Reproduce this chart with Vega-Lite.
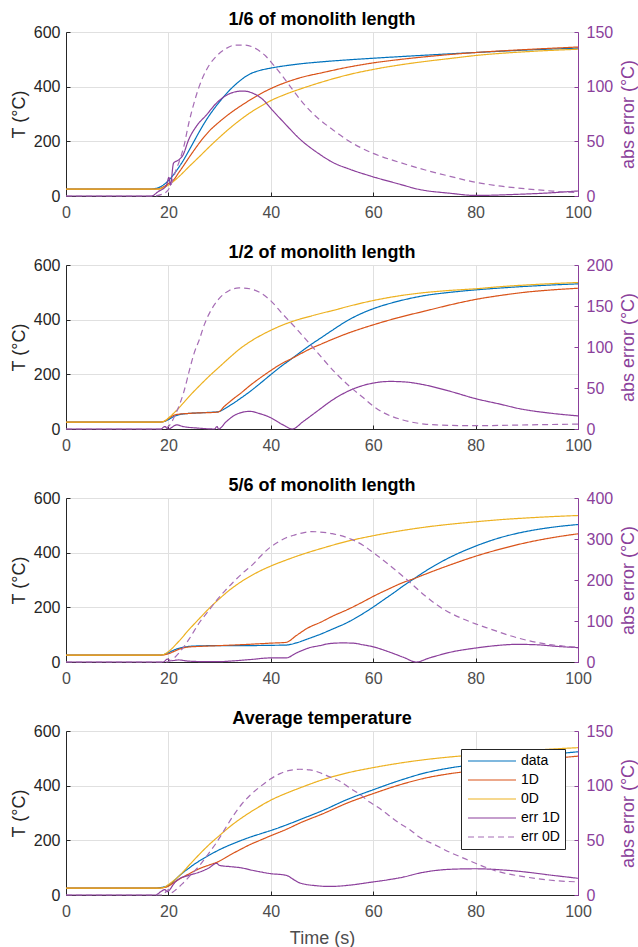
{
"$schema": "https://vega.github.io/schema/vega-lite/v6.json",
"padding": {"left": 10, "top": 11, "right": 0, "bottom": 0},
"config": {
  "font": "Liberation Sans",
  "view": {"stroke": null},
  "title": {"fontSize": 18, "fontWeight": "bold", "color": "#000000", "offset": -5},
  "axis": {"labelFontSize": 16, "titleFontSize": 18, "titleFontWeight": "normal", "labelFlush": false, "labelOverlap": false, "tickSize": -4, "gridColor": "#e0e0e0", "gridWidth": 1}
},
"data": {"values": [
{"p":1,"s":"data","t":0,"v":25},{"p":1,"s":"data","t":16,"v":25},{"p":1,"s":"data","t":17,"v":26},{"p":1,"s":"data","t":18,"v":30},{"p":1,"s":"data","t":19,"v":40},{"p":1,"s":"data","t":20,"v":56},{"p":1,"s":"data","t":21,"v":78},{"p":1,"s":"data","t":22,"v":104},{"p":1,"s":"data","t":23,"v":133},{"p":1,"s":"data","t":24,"v":166},{"p":1,"s":"data","t":25,"v":200},{"p":1,"s":"data","t":26,"v":234},{"p":1,"s":"data","t":27,"v":266},{"p":1,"s":"data","t":28,"v":295},{"p":1,"s":"data","t":29,"v":321},{"p":1,"s":"data","t":30,"v":345},{"p":1,"s":"data","t":31,"v":367},{"p":1,"s":"data","t":32,"v":388},{"p":1,"s":"data","t":33,"v":406},{"p":1,"s":"data","t":34,"v":422},{"p":1,"s":"data","t":35,"v":436},{"p":1,"s":"data","t":36,"v":447},{"p":1,"s":"data","t":38,"v":460},{"p":1,"s":"data","t":40,"v":468},{"p":1,"s":"data","t":43,"v":477},{"p":1,"s":"data","t":46,"v":484},{"p":1,"s":"data","t":50,"v":491},{"p":1,"s":"data","t":55,"v":498},{"p":1,"s":"data","t":60,"v":504},{"p":1,"s":"data","t":70,"v":515},{"p":1,"s":"data","t":80,"v":525},{"p":1,"s":"data","t":90,"v":534},{"p":1,"s":"data","t":100,"v":541},
{"p":1,"s":"1D","t":0,"v":25},{"p":1,"s":"1D","t":17,"v":25},{"p":1,"s":"1D","t":18,"v":26},{"p":1,"s":"1D","t":19,"v":33},{"p":1,"s":"1D","t":20,"v":45},{"p":1,"s":"1D","t":20.9,"v":56},{"p":1,"s":"1D","t":22,"v":85},{"p":1,"s":"1D","t":23,"v":112},{"p":1,"s":"1D","t":24,"v":140},{"p":1,"s":"1D","t":25,"v":167},{"p":1,"s":"1D","t":26,"v":193},{"p":1,"s":"1D","t":28,"v":238},{"p":1,"s":"1D","t":30,"v":272},{"p":1,"s":"1D","t":32,"v":302},{"p":1,"s":"1D","t":34,"v":328},{"p":1,"s":"1D","t":36,"v":352},{"p":1,"s":"1D","t":38,"v":374},{"p":1,"s":"1D","t":40,"v":393},{"p":1,"s":"1D","t":43,"v":416},{"p":1,"s":"1D","t":46,"v":434},{"p":1,"s":"1D","t":50,"v":451},{"p":1,"s":"1D","t":55,"v":471},{"p":1,"s":"1D","t":60,"v":487},{"p":1,"s":"1D","t":65,"v":499},{"p":1,"s":"1D","t":70,"v":509},{"p":1,"s":"1D","t":80,"v":525},{"p":1,"s":"1D","t":90,"v":536},{"p":1,"s":"1D","t":100,"v":545},
{"p":1,"s":"0D","t":0,"v":25},{"p":1,"s":"0D","t":18,"v":25},{"p":1,"s":"0D","t":19,"v":30},{"p":1,"s":"0D","t":20,"v":40},{"p":1,"s":"0D","t":20.9,"v":52},{"p":1,"s":"0D","t":22,"v":70},{"p":1,"s":"0D","t":23,"v":88},{"p":1,"s":"0D","t":24,"v":107},{"p":1,"s":"0D","t":25,"v":125},{"p":1,"s":"0D","t":26,"v":143},{"p":1,"s":"0D","t":28,"v":180},{"p":1,"s":"0D","t":30,"v":215},{"p":1,"s":"0D","t":32,"v":248},{"p":1,"s":"0D","t":34,"v":278},{"p":1,"s":"0D","t":36,"v":305},{"p":1,"s":"0D","t":38,"v":328},{"p":1,"s":"0D","t":40,"v":349},{"p":1,"s":"0D","t":43,"v":373},{"p":1,"s":"0D","t":46,"v":393},{"p":1,"s":"0D","t":50,"v":417},{"p":1,"s":"0D","t":55,"v":443},{"p":1,"s":"0D","t":60,"v":463},{"p":1,"s":"0D","t":65,"v":479},{"p":1,"s":"0D","t":70,"v":492},{"p":1,"s":"0D","t":75,"v":503},{"p":1,"s":"0D","t":80,"v":514},{"p":1,"s":"0D","t":90,"v":528},{"p":1,"s":"0D","t":100,"v":537},
{"p":1,"s":"err 1D","t":0,"v":0},{"p":1,"s":"err 1D","t":16.7,"v":0},{"p":1,"s":"err 1D","t":18,"v":4},{"p":1,"s":"err 1D","t":19.6,"v":9.5},{"p":1,"s":"err 1D","t":20.1,"v":17},{"p":1,"s":"err 1D","t":20.4,"v":10},{"p":1,"s":"err 1D","t":21,"v":30},{"p":1,"s":"err 1D","t":22,"v":33},{"p":1,"s":"err 1D","t":22.8,"v":37},{"p":1,"s":"err 1D","t":24,"v":52},{"p":1,"s":"err 1D","t":25.5,"v":64},{"p":1,"s":"err 1D","t":27.4,"v":74},{"p":1,"s":"err 1D","t":29.4,"v":85},{"p":1,"s":"err 1D","t":31.3,"v":92},{"p":1,"s":"err 1D","t":33.3,"v":95.5},{"p":1,"s":"err 1D","t":34.6,"v":96},{"p":1,"s":"err 1D","t":36.5,"v":94},{"p":1,"s":"err 1D","t":38.5,"v":88},{"p":1,"s":"err 1D","t":40.4,"v":78},{"p":1,"s":"err 1D","t":42.4,"v":68},{"p":1,"s":"err 1D","t":45.7,"v":52},{"p":1,"s":"err 1D","t":49.6,"v":38},{"p":1,"s":"err 1D","t":52,"v":31},{"p":1,"s":"err 1D","t":55.4,"v":24.5},{"p":1,"s":"err 1D","t":59.3,"v":18.5},{"p":1,"s":"err 1D","t":65,"v":11},{"p":1,"s":"err 1D","t":69,"v":6},{"p":1,"s":"err 1D","t":75,"v":2.5},{"p":1,"s":"err 1D","t":80,"v":0.5},{"p":1,"s":"err 1D","t":88,"v":1.5},{"p":1,"s":"err 1D","t":95,"v":3},{"p":1,"s":"err 1D","t":100,"v":4.6},
{"p":1,"s":"err 0D","t":0,"v":0},{"p":1,"s":"err 0D","t":17,"v":0},{"p":1,"s":"err 0D","t":19,"v":2},{"p":1,"s":"err 0D","t":20.3,"v":8},{"p":1,"s":"err 0D","t":21.5,"v":24},{"p":1,"s":"err 0D","t":22.3,"v":34},{"p":1,"s":"err 0D","t":23,"v":45},{"p":1,"s":"err 0D","t":24,"v":67},{"p":1,"s":"err 0D","t":25,"v":85},{"p":1,"s":"err 0D","t":26,"v":100},{"p":1,"s":"err 0D","t":27.5,"v":116},{"p":1,"s":"err 0D","t":29.4,"v":128},{"p":1,"s":"err 0D","t":31.3,"v":135},{"p":1,"s":"err 0D","t":33,"v":138},{"p":1,"s":"err 0D","t":35,"v":138},{"p":1,"s":"err 0D","t":37,"v":135},{"p":1,"s":"err 0D","t":39,"v":128},{"p":1,"s":"err 0D","t":40.5,"v":120},{"p":1,"s":"err 0D","t":42.4,"v":109},{"p":1,"s":"err 0D","t":44.3,"v":97},{"p":1,"s":"err 0D","t":46.3,"v":85},{"p":1,"s":"err 0D","t":49,"v":72},{"p":1,"s":"err 0D","t":52,"v":61},{"p":1,"s":"err 0D","t":55,"v":51},{"p":1,"s":"err 0D","t":60,"v":39},{"p":1,"s":"err 0D","t":65,"v":31},{"p":1,"s":"err 0D","t":70,"v":24},{"p":1,"s":"err 0D","t":75,"v":18},{"p":1,"s":"err 0D","t":80,"v":12.5},{"p":1,"s":"err 0D","t":85,"v":9},{"p":1,"s":"err 0D","t":90,"v":6.5},{"p":1,"s":"err 0D","t":95,"v":4.5},{"p":1,"s":"err 0D","t":100,"v":3},

{"p":2,"s":"data","t":0,"v":25},{"p":2,"s":"data","t":18,"v":25},{"p":2,"s":"data","t":19,"v":27},{"p":2,"s":"data","t":20,"v":34},{"p":2,"s":"data","t":21,"v":45},{"p":2,"s":"data","t":22,"v":52},{"p":2,"s":"data","t":24,"v":57},{"p":2,"s":"data","t":26,"v":59},{"p":2,"s":"data","t":28,"v":61},{"p":2,"s":"data","t":29.7,"v":63},{"p":2,"s":"data","t":31,"v":74},{"p":2,"s":"data","t":32,"v":86},{"p":2,"s":"data","t":33,"v":98},{"p":2,"s":"data","t":34,"v":111},{"p":2,"s":"data","t":36,"v":138},{"p":2,"s":"data","t":38,"v":168},{"p":2,"s":"data","t":40,"v":199},{"p":2,"s":"data","t":42,"v":229},{"p":2,"s":"data","t":44,"v":256},{"p":2,"s":"data","t":46,"v":284},{"p":2,"s":"data","t":48,"v":311},{"p":2,"s":"data","t":50,"v":336},{"p":2,"s":"data","t":52,"v":361},{"p":2,"s":"data","t":55,"v":397},{"p":2,"s":"data","t":58,"v":425},{"p":2,"s":"data","t":60,"v":440},{"p":2,"s":"data","t":65,"v":468},{"p":2,"s":"data","t":70,"v":488},{"p":2,"s":"data","t":75,"v":500},{"p":2,"s":"data","t":80,"v":509},{"p":2,"s":"data","t":85,"v":516},{"p":2,"s":"data","t":90,"v":522},{"p":2,"s":"data","t":95,"v":527},{"p":2,"s":"data","t":100,"v":531},
{"p":2,"s":"1D","t":0,"v":25},{"p":2,"s":"1D","t":18,"v":25},{"p":2,"s":"1D","t":19,"v":27},{"p":2,"s":"1D","t":20,"v":38},{"p":2,"s":"1D","t":21,"v":50},{"p":2,"s":"1D","t":22,"v":54},{"p":2,"s":"1D","t":24,"v":57},{"p":2,"s":"1D","t":26,"v":59},{"p":2,"s":"1D","t":28,"v":60},{"p":2,"s":"1D","t":29.7,"v":62},{"p":2,"s":"1D","t":31,"v":84},{"p":2,"s":"1D","t":32,"v":100},{"p":2,"s":"1D","t":33,"v":115},{"p":2,"s":"1D","t":34,"v":129},{"p":2,"s":"1D","t":36,"v":160},{"p":2,"s":"1D","t":38,"v":188},{"p":2,"s":"1D","t":40,"v":214},{"p":2,"s":"1D","t":42,"v":238},{"p":2,"s":"1D","t":44,"v":257},{"p":2,"s":"1D","t":46,"v":277},{"p":2,"s":"1D","t":48,"v":296},{"p":2,"s":"1D","t":50,"v":312},{"p":2,"s":"1D","t":52,"v":328},{"p":2,"s":"1D","t":55,"v":350},{"p":2,"s":"1D","t":60,"v":381},{"p":2,"s":"1D","t":65,"v":408},{"p":2,"s":"1D","t":70,"v":431},{"p":2,"s":"1D","t":75,"v":454},{"p":2,"s":"1D","t":80,"v":474},{"p":2,"s":"1D","t":85,"v":489},{"p":2,"s":"1D","t":90,"v":501},{"p":2,"s":"1D","t":95,"v":509},{"p":2,"s":"1D","t":100,"v":515},
{"p":2,"s":"0D","t":0,"v":25},{"p":2,"s":"0D","t":18,"v":25},{"p":2,"s":"0D","t":19,"v":27},{"p":2,"s":"0D","t":20,"v":40},{"p":2,"s":"0D","t":21,"v":57},{"p":2,"s":"0D","t":22,"v":76},{"p":2,"s":"0D","t":23,"v":97},{"p":2,"s":"0D","t":24,"v":118},{"p":2,"s":"0D","t":25,"v":138},{"p":2,"s":"0D","t":26,"v":157},{"p":2,"s":"0D","t":28,"v":194},{"p":2,"s":"0D","t":30,"v":228},{"p":2,"s":"0D","t":32,"v":262},{"p":2,"s":"0D","t":34,"v":294},{"p":2,"s":"0D","t":36,"v":320},{"p":2,"s":"0D","t":38,"v":342},{"p":2,"s":"0D","t":40,"v":361},{"p":2,"s":"0D","t":42,"v":378},{"p":2,"s":"0D","t":44,"v":392},{"p":2,"s":"0D","t":46,"v":404},{"p":2,"s":"0D","t":48,"v":414},{"p":2,"s":"0D","t":50,"v":424},{"p":2,"s":"0D","t":52,"v":433},{"p":2,"s":"0D","t":55,"v":448},{"p":2,"s":"0D","t":60,"v":470},{"p":2,"s":"0D","t":65,"v":487},{"p":2,"s":"0D","t":70,"v":499},{"p":2,"s":"0D","t":75,"v":507},{"p":2,"s":"0D","t":80,"v":513},{"p":2,"s":"0D","t":85,"v":521},{"p":2,"s":"0D","t":90,"v":527},{"p":2,"s":"0D","t":95,"v":532},{"p":2,"s":"0D","t":100,"v":536},
{"p":2,"s":"err 1D","t":0,"v":0},{"p":2,"s":"err 1D","t":18.5,"v":0},{"p":2,"s":"err 1D","t":19.3,"v":3},{"p":2,"s":"err 1D","t":20,"v":0},{"p":2,"s":"err 1D","t":21.6,"v":5},{"p":2,"s":"err 1D","t":22.9,"v":3},{"p":2,"s":"err 1D","t":26,"v":1},{"p":2,"s":"err 1D","t":29,"v":0},{"p":2,"s":"err 1D","t":29.5,"v":3},{"p":2,"s":"err 1D","t":29.8,"v":0},{"p":2,"s":"err 1D","t":31.3,"v":9},{"p":2,"s":"err 1D","t":33.3,"v":18},{"p":2,"s":"err 1D","t":35.9,"v":21.5},{"p":2,"s":"err 1D","t":37.7,"v":19},{"p":2,"s":"err 1D","t":39.9,"v":14},{"p":2,"s":"err 1D","t":42.4,"v":5},{"p":2,"s":"err 1D","t":44.2,"v":0},{"p":2,"s":"err 1D","t":46.3,"v":9},{"p":2,"s":"err 1D","t":48.9,"v":21},{"p":2,"s":"err 1D","t":52.2,"v":36},{"p":2,"s":"err 1D","t":55.4,"v":47},{"p":2,"s":"err 1D","t":58,"v":53},{"p":2,"s":"err 1D","t":60,"v":56},{"p":2,"s":"err 1D","t":63.3,"v":58},{"p":2,"s":"err 1D","t":66,"v":57.5},{"p":2,"s":"err 1D","t":69,"v":55},{"p":2,"s":"err 1D","t":75,"v":46},{"p":2,"s":"err 1D","t":80,"v":37},{"p":2,"s":"err 1D","t":85,"v":30},{"p":2,"s":"err 1D","t":88.4,"v":25},{"p":2,"s":"err 1D","t":95,"v":19},{"p":2,"s":"err 1D","t":100,"v":16},
{"p":2,"s":"err 0D","t":0,"v":0},{"p":2,"s":"err 0D","t":19,"v":0},{"p":2,"s":"err 0D","t":20,"v":3},{"p":2,"s":"err 0D","t":21.6,"v":21},{"p":2,"s":"err 0D","t":23,"v":45},{"p":2,"s":"err 0D","t":24.2,"v":74},{"p":2,"s":"err 0D","t":25,"v":92},{"p":2,"s":"err 0D","t":26.1,"v":110},{"p":2,"s":"err 0D","t":27,"v":127},{"p":2,"s":"err 0D","t":28,"v":141},{"p":2,"s":"err 0D","t":29.9,"v":159},{"p":2,"s":"err 0D","t":31.9,"v":169},{"p":2,"s":"err 0D","t":33.8,"v":172},{"p":2,"s":"err 0D","t":35.9,"v":171},{"p":2,"s":"err 0D","t":37.7,"v":167},{"p":2,"s":"err 0D","t":39.9,"v":157},{"p":2,"s":"err 0D","t":42.2,"v":141},{"p":2,"s":"err 0D","t":44.9,"v":123},{"p":2,"s":"err 0D","t":47.6,"v":104},{"p":2,"s":"err 0D","t":50.1,"v":86},{"p":2,"s":"err 0D","t":52.7,"v":68},{"p":2,"s":"err 0D","t":55.4,"v":52},{"p":2,"s":"err 0D","t":57.9,"v":39},{"p":2,"s":"err 0D","t":60,"v":28},{"p":2,"s":"err 0D","t":62,"v":20},{"p":2,"s":"err 0D","t":65.8,"v":11},{"p":2,"s":"err 0D","t":70,"v":6},{"p":2,"s":"err 0D","t":72.3,"v":5},{"p":2,"s":"err 0D","t":80,"v":4},{"p":2,"s":"err 0D","t":90,"v":5},{"p":2,"s":"err 0D","t":100,"v":6},

{"p":3,"s":"data","t":0,"v":25},{"p":3,"s":"data","t":18,"v":25},{"p":3,"s":"data","t":19,"v":27},{"p":3,"s":"data","t":20,"v":34},{"p":3,"s":"data","t":21,"v":43},{"p":3,"s":"data","t":22,"v":50},{"p":3,"s":"data","t":23,"v":54},{"p":3,"s":"data","t":24,"v":57},{"p":3,"s":"data","t":26,"v":59},{"p":3,"s":"data","t":30,"v":60},{"p":3,"s":"data","t":35,"v":60},{"p":3,"s":"data","t":40,"v":61},{"p":3,"s":"data","t":43,"v":62},{"p":3,"s":"data","t":45,"v":70},{"p":3,"s":"data","t":47,"v":83},{"p":3,"s":"data","t":50,"v":104},{"p":3,"s":"data","t":52,"v":120},{"p":3,"s":"data","t":55,"v":145},{"p":3,"s":"data","t":58,"v":177},{"p":3,"s":"data","t":60,"v":201},{"p":3,"s":"data","t":62,"v":227},{"p":3,"s":"data","t":64,"v":253},{"p":3,"s":"data","t":66,"v":280},{"p":3,"s":"data","t":68,"v":305},{"p":3,"s":"data","t":70,"v":330},{"p":3,"s":"data","t":72,"v":353},{"p":3,"s":"data","t":75,"v":383},{"p":3,"s":"data","t":80,"v":424},{"p":3,"s":"data","t":85,"v":456},{"p":3,"s":"data","t":90,"v":478},{"p":3,"s":"data","t":95,"v":493},{"p":3,"s":"data","t":100,"v":503},
{"p":3,"s":"1D","t":0,"v":25},{"p":3,"s":"1D","t":18,"v":25},{"p":3,"s":"1D","t":19,"v":26},{"p":3,"s":"1D","t":20,"v":30},{"p":3,"s":"1D","t":21,"v":38},{"p":3,"s":"1D","t":22,"v":46},{"p":3,"s":"1D","t":23,"v":52},{"p":3,"s":"1D","t":24,"v":55},{"p":3,"s":"1D","t":26,"v":57},{"p":3,"s":"1D","t":30,"v":60},{"p":3,"s":"1D","t":35,"v":64},{"p":3,"s":"1D","t":40,"v":69},{"p":3,"s":"1D","t":43,"v":72},{"p":3,"s":"1D","t":45,"v":97},{"p":3,"s":"1D","t":47,"v":122},{"p":3,"s":"1D","t":50,"v":148},{"p":3,"s":"1D","t":52,"v":167},{"p":3,"s":"1D","t":55,"v":192},{"p":3,"s":"1D","t":58,"v":220},{"p":3,"s":"1D","t":60,"v":240},{"p":3,"s":"1D","t":63,"v":267},{"p":3,"s":"1D","t":66,"v":292},{"p":3,"s":"1D","t":68.4,"v":308},{"p":3,"s":"1D","t":70,"v":320},{"p":3,"s":"1D","t":75,"v":355},{"p":3,"s":"1D","t":80,"v":387},{"p":3,"s":"1D","t":85,"v":414},{"p":3,"s":"1D","t":90,"v":437},{"p":3,"s":"1D","t":95,"v":455},{"p":3,"s":"1D","t":100,"v":469},
{"p":3,"s":"0D","t":0,"v":25},{"p":3,"s":"0D","t":18,"v":25},{"p":3,"s":"0D","t":19,"v":27},{"p":3,"s":"0D","t":20,"v":38},{"p":3,"s":"0D","t":22,"v":75},{"p":3,"s":"0D","t":24,"v":118},{"p":3,"s":"0D","t":26,"v":158},{"p":3,"s":"0D","t":28,"v":197},{"p":3,"s":"0D","t":30,"v":232},{"p":3,"s":"0D","t":32,"v":264},{"p":3,"s":"0D","t":34,"v":291},{"p":3,"s":"0D","t":36,"v":314},{"p":3,"s":"0D","t":38,"v":334},{"p":3,"s":"0D","t":40,"v":351},{"p":3,"s":"0D","t":43,"v":373},{"p":3,"s":"0D","t":46,"v":393},{"p":3,"s":"0D","t":50,"v":416},{"p":3,"s":"0D","t":55,"v":442},{"p":3,"s":"0D","t":60,"v":462},{"p":3,"s":"0D","t":65,"v":479},{"p":3,"s":"0D","t":70,"v":493},{"p":3,"s":"0D","t":75,"v":504},{"p":3,"s":"0D","t":80,"v":513},{"p":3,"s":"0D","t":85,"v":521},{"p":3,"s":"0D","t":90,"v":527},{"p":3,"s":"0D","t":95,"v":532},{"p":3,"s":"0D","t":100,"v":536},
{"p":3,"s":"err 1D","t":0,"v":0},{"p":3,"s":"err 1D","t":19,"v":0},{"p":3,"s":"err 1D","t":19.8,"v":7},{"p":3,"s":"err 1D","t":20.5,"v":3},{"p":3,"s":"err 1D","t":22,"v":5},{"p":3,"s":"err 1D","t":24,"v":2},{"p":3,"s":"err 1D","t":27,"v":1},{"p":3,"s":"err 1D","t":30,"v":1},{"p":3,"s":"err 1D","t":33,"v":3},{"p":3,"s":"err 1D","t":36,"v":6},{"p":3,"s":"err 1D","t":40,"v":10},{"p":3,"s":"err 1D","t":43,"v":10},{"p":3,"s":"err 1D","t":45,"v":22},{"p":3,"s":"err 1D","t":47.6,"v":35},{"p":3,"s":"err 1D","t":49.6,"v":40},{"p":3,"s":"err 1D","t":51.5,"v":45},{"p":3,"s":"err 1D","t":54,"v":46.5},{"p":3,"s":"err 1D","t":56,"v":46},{"p":3,"s":"err 1D","t":58,"v":42},{"p":3,"s":"err 1D","t":60,"v":37},{"p":3,"s":"err 1D","t":63,"v":25},{"p":3,"s":"err 1D","t":66,"v":11},{"p":3,"s":"err 1D","t":68.4,"v":0},{"p":3,"s":"err 1D","t":71,"v":10},{"p":3,"s":"err 1D","t":75.5,"v":25},{"p":3,"s":"err 1D","t":80,"v":34},{"p":3,"s":"err 1D","t":84,"v":40},{"p":3,"s":"err 1D","t":88,"v":43},{"p":3,"s":"err 1D","t":92,"v":42},{"p":3,"s":"err 1D","t":96,"v":38},{"p":3,"s":"err 1D","t":100,"v":35},
{"p":3,"s":"err 0D","t":0,"v":0},{"p":3,"s":"err 0D","t":19.5,"v":0},{"p":3,"s":"err 0D","t":20.5,"v":4},{"p":3,"s":"err 0D","t":22.2,"v":24},{"p":3,"s":"err 0D","t":24,"v":55},{"p":3,"s":"err 0D","t":26.1,"v":97},{"p":3,"s":"err 0D","t":27.8,"v":124},{"p":3,"s":"err 0D","t":29.4,"v":150},{"p":3,"s":"err 0D","t":31,"v":173},{"p":3,"s":"err 0D","t":32.6,"v":194},{"p":3,"s":"err 0D","t":34.5,"v":217},{"p":3,"s":"err 0D","t":36.5,"v":238},{"p":3,"s":"err 0D","t":38,"v":258},{"p":3,"s":"err 0D","t":39.8,"v":279},{"p":3,"s":"err 0D","t":41.5,"v":293},{"p":3,"s":"err 0D","t":43,"v":303},{"p":3,"s":"err 0D","t":44.7,"v":310},{"p":3,"s":"err 0D","t":46.3,"v":315},{"p":3,"s":"err 0D","t":48,"v":318},{"p":3,"s":"err 0D","t":49.6,"v":317},{"p":3,"s":"err 0D","t":52,"v":313},{"p":3,"s":"err 0D","t":55.8,"v":299},{"p":3,"s":"err 0D","t":58,"v":285},{"p":3,"s":"err 0D","t":60,"v":267},{"p":3,"s":"err 0D","t":63,"v":238},{"p":3,"s":"err 0D","t":67.2,"v":194},{"p":3,"s":"err 0D","t":70,"v":163},{"p":3,"s":"err 0D","t":73.7,"v":129},{"p":3,"s":"err 0D","t":77,"v":108},{"p":3,"s":"err 0D","t":80,"v":93},{"p":3,"s":"err 0D","t":83,"v":80},{"p":3,"s":"err 0D","t":86.5,"v":65},{"p":3,"s":"err 0D","t":90,"v":53},{"p":3,"s":"err 0D","t":93.6,"v":44},{"p":3,"s":"err 0D","t":97,"v":39},{"p":3,"s":"err 0D","t":100,"v":36},

{"p":4,"s":"data","t":0,"v":25},{"p":4,"s":"data","t":17,"v":25},{"p":4,"s":"data","t":18,"v":26},{"p":4,"s":"data","t":19,"v":29},{"p":4,"s":"data","t":20,"v":35},{"p":4,"s":"data","t":21,"v":50},{"p":4,"s":"data","t":22,"v":68},{"p":4,"s":"data","t":23,"v":84},{"p":4,"s":"data","t":24,"v":98},{"p":4,"s":"data","t":25,"v":112},{"p":4,"s":"data","t":26,"v":124},{"p":4,"s":"data","t":28,"v":146},{"p":4,"s":"data","t":30,"v":166},{"p":4,"s":"data","t":32,"v":183},{"p":4,"s":"data","t":34,"v":198},{"p":4,"s":"data","t":36,"v":212},{"p":4,"s":"data","t":38,"v":224},{"p":4,"s":"data","t":40,"v":236},{"p":4,"s":"data","t":43,"v":256},{"p":4,"s":"data","t":46,"v":278},{"p":4,"s":"data","t":50,"v":308},{"p":4,"s":"data","t":55,"v":350},{"p":4,"s":"data","t":60,"v":385},{"p":4,"s":"data","t":65,"v":418},{"p":4,"s":"data","t":70,"v":446},{"p":4,"s":"data","t":75,"v":465},{"p":4,"s":"data","t":80,"v":478},{"p":4,"s":"data","t":85,"v":492},{"p":4,"s":"data","t":90,"v":505},{"p":4,"s":"data","t":95,"v":515},{"p":4,"s":"data","t":100,"v":524},
{"p":4,"s":"1D","t":0,"v":25},{"p":4,"s":"1D","t":18,"v":25},{"p":4,"s":"1D","t":19,"v":27},{"p":4,"s":"1D","t":20,"v":32},{"p":4,"s":"1D","t":21,"v":45},{"p":4,"s":"1D","t":22,"v":57},{"p":4,"s":"1D","t":23,"v":67},{"p":4,"s":"1D","t":24,"v":77},{"p":4,"s":"1D","t":25,"v":87},{"p":4,"s":"1D","t":26,"v":96},{"p":4,"s":"1D","t":28,"v":110},{"p":4,"s":"1D","t":29.5,"v":120},{"p":4,"s":"1D","t":32,"v":146},{"p":4,"s":"1D","t":34,"v":166},{"p":4,"s":"1D","t":36,"v":185},{"p":4,"s":"1D","t":38,"v":201},{"p":4,"s":"1D","t":40,"v":217},{"p":4,"s":"1D","t":43,"v":240},{"p":4,"s":"1D","t":46,"v":266},{"p":4,"s":"1D","t":50,"v":296},{"p":4,"s":"1D","t":55,"v":337},{"p":4,"s":"1D","t":60,"v":371},{"p":4,"s":"1D","t":65,"v":402},{"p":4,"s":"1D","t":70,"v":427},{"p":4,"s":"1D","t":75,"v":444},{"p":4,"s":"1D","t":80,"v":456},{"p":4,"s":"1D","t":85,"v":473},{"p":4,"s":"1D","t":90,"v":488},{"p":4,"s":"1D","t":95,"v":499},{"p":4,"s":"1D","t":100,"v":508},
{"p":4,"s":"0D","t":0,"v":25},{"p":4,"s":"0D","t":18,"v":25},{"p":4,"s":"0D","t":19,"v":27},{"p":4,"s":"0D","t":20,"v":38},{"p":4,"s":"0D","t":21,"v":52},{"p":4,"s":"0D","t":22,"v":68},{"p":4,"s":"0D","t":23,"v":87},{"p":4,"s":"0D","t":24,"v":108},{"p":4,"s":"0D","t":25,"v":128},{"p":4,"s":"0D","t":26,"v":148},{"p":4,"s":"0D","t":28,"v":185},{"p":4,"s":"0D","t":30,"v":218},{"p":4,"s":"0D","t":32,"v":250},{"p":4,"s":"0D","t":34,"v":278},{"p":4,"s":"0D","t":36,"v":303},{"p":4,"s":"0D","t":38,"v":326},{"p":4,"s":"0D","t":40,"v":347},{"p":4,"s":"0D","t":43,"v":372},{"p":4,"s":"0D","t":46,"v":394},{"p":4,"s":"0D","t":50,"v":421},{"p":4,"s":"0D","t":55,"v":447},{"p":4,"s":"0D","t":60,"v":466},{"p":4,"s":"0D","t":65,"v":482},{"p":4,"s":"0D","t":70,"v":495},{"p":4,"s":"0D","t":75,"v":505},{"p":4,"s":"0D","t":80,"v":513},{"p":4,"s":"0D","t":85,"v":521},{"p":4,"s":"0D","t":90,"v":528},{"p":4,"s":"0D","t":95,"v":534},{"p":4,"s":"0D","t":100,"v":539},
{"p":4,"s":"err 1D","t":0,"v":0},{"p":4,"s":"err 1D","t":17.5,"v":0},{"p":4,"s":"err 1D","t":18.5,"v":3},{"p":4,"s":"err 1D","t":19.3,"v":5},{"p":4,"s":"err 1D","t":19.8,"v":3},{"p":4,"s":"err 1D","t":20.3,"v":5},{"p":4,"s":"err 1D","t":21,"v":10},{"p":4,"s":"err 1D","t":22.1,"v":14.7},{"p":4,"s":"err 1D","t":24,"v":18},{"p":4,"s":"err 1D","t":26.1,"v":21},{"p":4,"s":"err 1D","t":28,"v":25},{"p":4,"s":"err 1D","t":29.4,"v":29},{"p":4,"s":"err 1D","t":30,"v":27},{"p":4,"s":"err 1D","t":32,"v":26},{"p":4,"s":"err 1D","t":34,"v":25},{"p":4,"s":"err 1D","t":37,"v":22},{"p":4,"s":"err 1D","t":39.9,"v":19.6},{"p":4,"s":"err 1D","t":43,"v":18},{"p":4,"s":"err 1D","t":44.5,"v":14},{"p":4,"s":"err 1D","t":45.7,"v":11},{"p":4,"s":"err 1D","t":48.9,"v":8.5},{"p":4,"s":"err 1D","t":51.5,"v":7.8},{"p":4,"s":"err 1D","t":55.4,"v":9},{"p":4,"s":"err 1D","t":59.3,"v":11.5},{"p":4,"s":"err 1D","t":63,"v":14},{"p":4,"s":"err 1D","t":66,"v":16.5},{"p":4,"s":"err 1D","t":69,"v":20},{"p":4,"s":"err 1D","t":75,"v":23.5},{"p":4,"s":"err 1D","t":80,"v":24},{"p":4,"s":"err 1D","t":85,"v":23},{"p":4,"s":"err 1D","t":88.4,"v":21.7},{"p":4,"s":"err 1D","t":95,"v":18},{"p":4,"s":"err 1D","t":100,"v":15.3},
{"p":4,"s":"err 0D","t":0,"v":0},{"p":4,"s":"err 0D","t":19,"v":0},{"p":4,"s":"err 0D","t":19.5,"v":3},{"p":4,"s":"err 0D","t":20,"v":5},{"p":4,"s":"err 0D","t":20.5,"v":2},{"p":4,"s":"err 0D","t":21.5,"v":5},{"p":4,"s":"err 0D","t":22.9,"v":11},{"p":4,"s":"err 0D","t":24.5,"v":19},{"p":4,"s":"err 0D","t":26.1,"v":27},{"p":4,"s":"err 0D","t":27.7,"v":37},{"p":4,"s":"err 0D","t":29.4,"v":48},{"p":4,"s":"err 0D","t":31,"v":60},{"p":4,"s":"err 0D","t":32.6,"v":72},{"p":4,"s":"err 0D","t":34.3,"v":83},{"p":4,"s":"err 0D","t":35.9,"v":91},{"p":4,"s":"err 0D","t":37.9,"v":99},{"p":4,"s":"err 0D","t":39.9,"v":106},{"p":4,"s":"err 0D","t":41.8,"v":111},{"p":4,"s":"err 0D","t":43.7,"v":114},{"p":4,"s":"err 0D","t":45.7,"v":115},{"p":4,"s":"err 0D","t":47.6,"v":114.5},{"p":4,"s":"err 0D","t":49.5,"v":112},{"p":4,"s":"err 0D","t":51.5,"v":108},{"p":4,"s":"err 0D","t":53.5,"v":104},{"p":4,"s":"err 0D","t":55.4,"v":98},{"p":4,"s":"err 0D","t":57.4,"v":92},{"p":4,"s":"err 0D","t":59.3,"v":85},{"p":4,"s":"err 0D","t":61,"v":80},{"p":4,"s":"err 0D","t":63,"v":73},{"p":4,"s":"err 0D","t":65,"v":66},{"p":4,"s":"err 0D","t":67.1,"v":60},{"p":4,"s":"err 0D","t":69,"v":53},{"p":4,"s":"err 0D","t":72,"v":46},{"p":4,"s":"err 0D","t":75,"v":39},{"p":4,"s":"err 0D","t":78,"v":33},{"p":4,"s":"err 0D","t":80,"v":29},{"p":4,"s":"err 0D","t":84,"v":22},{"p":4,"s":"err 0D","t":88.4,"v":17.5},{"p":4,"s":"err 0D","t":92,"v":15},{"p":4,"s":"err 0D","t":96,"v":13},{"p":4,"s":"err 0D","t":100,"v":12}
]},
"bounds": "flush",
"spacing": 69,
"resolve": {"scale": {"color": "independent", "strokeDash": "independent"}},
"vconcat": [
{
  "title": "1/6 of monolith length",
  "width": 512, "height": 164,
  "transform": [{"filter": "datum.p == 1"}],
  "layer": [
    {"transform": [{"filter": {"field": "s", "oneOf": ["data", "1D", "0D"]}}],
     "mark": {"type": "line", "interpolate": "monotone", "strokeWidth": 1.2},
     "encoding": {
       "x": {"field": "t", "type": "quantitative", "scale": {"domain": [0, 100], "nice": false}, "axis": {"values": [0, 20, 40, 60, 80, 100], "title": null, "grid": true, "domainColor": "#262626", "tickColor": "#262626", "labelColor": "#4d4d4d", "labelPadding": 12}},
       "y": {"field": "v", "type": "quantitative", "scale": {"domain": [0, 600], "nice": false}, "axis": {"values": [0, 200, 400, 600], "title": "T (°C)", "grid": true, "domainColor": "#262626", "tickColor": "#262626", "labelColor": "#262626", "titleColor": "#262626", "labelPadding": 10, "titlePadding": 5}},
       "color": {"field": "s", "type": "nominal", "scale": {"domain": ["data", "1D", "0D", "err 1D", "err 0D"], "range": ["#0072BD", "#D95319", "#EDB120", "#8B3F9B", "#A66DB5"]}, "legend": null},
       "strokeDash": {"field": "s", "type": "nominal", "scale": {"domain": ["data", "1D", "0D", "err 1D", "err 0D"], "range": [[1, 0], [1, 0], [1, 0], [1, 0], [6, 4]]}, "legend": null}
     }},
    {"transform": [{"filter": {"field": "s", "oneOf": ["err 1D", "err 0D"]}}],
     "mark": {"type": "line", "interpolate": "monotone", "strokeWidth": 1.2},
     "encoding": {
       "x": {"field": "t", "type": "quantitative"},
       "y": {"field": "v", "type": "quantitative", "scale": {"domain": [0, 150], "nice": false}, "axis": {"orient": "right", "values": [0, 50, 100, 150], "title": "abs error (°C)", "grid": false, "domainColor": "#8B3F9B", "tickColor": "#8B3F9B", "labelColor": "#8B3F9B", "titleColor": "#8B3F9B", "labelPadding": 12, "titlePadding": 7, "titleAngle": 270, "titleBaseline": "top"}},
       "color": {"field": "s", "type": "nominal", "legend": null},
       "strokeDash": {"field": "s", "type": "nominal", "legend": null}
     }}
  ],
  "resolve": {"scale": {"y": "independent"}}
},
{
  "title": "1/2 of monolith length",
  "width": 512, "height": 164,
  "transform": [{"filter": "datum.p == 2"}],
  "layer": [
    {"transform": [{"filter": {"field": "s", "oneOf": ["data", "1D", "0D"]}}],
     "mark": {"type": "line", "interpolate": "monotone", "strokeWidth": 1.2},
     "encoding": {
       "x": {"field": "t", "type": "quantitative", "scale": {"domain": [0, 100], "nice": false}, "axis": {"values": [0, 20, 40, 60, 80, 100], "title": null, "grid": true, "domainColor": "#262626", "tickColor": "#262626", "labelColor": "#4d4d4d", "labelPadding": 12}},
       "y": {"field": "v", "type": "quantitative", "scale": {"domain": [0, 600], "nice": false}, "axis": {"values": [0, 200, 400, 600], "title": "T (°C)", "grid": true, "domainColor": "#262626", "tickColor": "#262626", "labelColor": "#262626", "titleColor": "#262626", "labelPadding": 10, "titlePadding": 5}},
       "color": {"field": "s", "type": "nominal", "scale": {"domain": ["data", "1D", "0D", "err 1D", "err 0D"], "range": ["#0072BD", "#D95319", "#EDB120", "#8B3F9B", "#A66DB5"]}, "legend": null},
       "strokeDash": {"field": "s", "type": "nominal", "scale": {"domain": ["data", "1D", "0D", "err 1D", "err 0D"], "range": [[1, 0], [1, 0], [1, 0], [1, 0], [6, 4]]}, "legend": null}
     }},
    {"transform": [{"filter": {"field": "s", "oneOf": ["err 1D", "err 0D"]}}],
     "mark": {"type": "line", "interpolate": "monotone", "strokeWidth": 1.2},
     "encoding": {
       "x": {"field": "t", "type": "quantitative"},
       "y": {"field": "v", "type": "quantitative", "scale": {"domain": [0, 200], "nice": false}, "axis": {"orient": "right", "values": [0, 50, 100, 150, 200], "title": "abs error (°C)", "grid": false, "domainColor": "#8B3F9B", "tickColor": "#8B3F9B", "labelColor": "#8B3F9B", "titleColor": "#8B3F9B", "labelPadding": 12, "titlePadding": 7, "titleAngle": 270, "titleBaseline": "top"}},
       "color": {"field": "s", "type": "nominal", "legend": null},
       "strokeDash": {"field": "s", "type": "nominal", "legend": null}
     }}
  ],
  "resolve": {"scale": {"y": "independent"}}
},
{
  "title": "5/6 of monolith length",
  "width": 512, "height": 164,
  "transform": [{"filter": "datum.p == 3"}],
  "layer": [
    {"transform": [{"filter": {"field": "s", "oneOf": ["data", "1D", "0D"]}}],
     "mark": {"type": "line", "interpolate": "monotone", "strokeWidth": 1.2},
     "encoding": {
       "x": {"field": "t", "type": "quantitative", "scale": {"domain": [0, 100], "nice": false}, "axis": {"values": [0, 20, 40, 60, 80, 100], "title": null, "grid": true, "domainColor": "#262626", "tickColor": "#262626", "labelColor": "#4d4d4d", "labelPadding": 12}},
       "y": {"field": "v", "type": "quantitative", "scale": {"domain": [0, 600], "nice": false}, "axis": {"values": [0, 200, 400, 600], "title": "T (°C)", "grid": true, "domainColor": "#262626", "tickColor": "#262626", "labelColor": "#262626", "titleColor": "#262626", "labelPadding": 10, "titlePadding": 5}},
       "color": {"field": "s", "type": "nominal", "scale": {"domain": ["data", "1D", "0D", "err 1D", "err 0D"], "range": ["#0072BD", "#D95319", "#EDB120", "#8B3F9B", "#A66DB5"]}, "legend": null},
       "strokeDash": {"field": "s", "type": "nominal", "scale": {"domain": ["data", "1D", "0D", "err 1D", "err 0D"], "range": [[1, 0], [1, 0], [1, 0], [1, 0], [6, 4]]}, "legend": null}
     }},
    {"transform": [{"filter": {"field": "s", "oneOf": ["err 1D", "err 0D"]}}],
     "mark": {"type": "line", "interpolate": "monotone", "strokeWidth": 1.2},
     "encoding": {
       "x": {"field": "t", "type": "quantitative"},
       "y": {"field": "v", "type": "quantitative", "scale": {"domain": [0, 400], "nice": false}, "axis": {"orient": "right", "values": [0, 100, 200, 300, 400], "title": "abs error (°C)", "grid": false, "domainColor": "#8B3F9B", "tickColor": "#8B3F9B", "labelColor": "#8B3F9B", "titleColor": "#8B3F9B", "labelPadding": 12, "titlePadding": 7, "titleAngle": 270, "titleBaseline": "top"}},
       "color": {"field": "s", "type": "nominal", "legend": null},
       "strokeDash": {"field": "s", "type": "nominal", "legend": null}
     }}
  ],
  "resolve": {"scale": {"y": "independent"}}
},
{
  "title": "Average temperature",
  "width": 512, "height": 164,
  "transform": [{"filter": "datum.p == 4"}],
  "layer": [
    {"transform": [{"filter": {"field": "s", "oneOf": ["data", "1D", "0D"]}}],
     "mark": {"type": "line", "interpolate": "monotone", "strokeWidth": 1.2},
     "encoding": {
       "x": {"field": "t", "type": "quantitative", "scale": {"domain": [0, 100], "nice": false}, "axis": {"values": [0, 20, 40, 60, 80, 100], "title": "Time (s)", "titleColor": "#4d4d4d", "titlePadding": 10, "grid": true, "domainColor": "#262626", "tickColor": "#262626", "labelColor": "#4d4d4d", "labelPadding": 12}},
       "y": {"field": "v", "type": "quantitative", "scale": {"domain": [0, 600], "nice": false}, "axis": {"values": [0, 200, 400, 600], "title": "T (°C)", "grid": true, "domainColor": "#262626", "tickColor": "#262626", "labelColor": "#262626", "titleColor": "#262626", "labelPadding": 10, "titlePadding": 5}},
       "color": {"field": "s", "type": "nominal", "scale": {"domain": ["data", "1D", "0D", "err 1D", "err 0D"], "range": ["#0072BD", "#D95319", "#EDB120", "#8B3F9B", "#A66DB5"]}, "legend": {"orient": "none", "legendX": 395, "legendY": 18, "title": null, "strokeColor": "#262626", "fillColor": "#ffffff", "padding": 5, "symbolType": "M-1,0H8.6", "symbolSize": 100, "symbolStrokeWidth": 1.2, "labelFontSize": 14, "labelColor": "#000000", "rowPadding": 5, "labelOffset": 41}},
       "strokeDash": {"field": "s", "type": "nominal", "scale": {"domain": ["data", "1D", "0D", "err 1D", "err 0D"], "range": [[1, 0], [1, 0], [1, 0], [1, 0], [6, 4]]}, "legend": {"orient": "none", "legendX": 395, "legendY": 18, "title": null, "strokeColor": "#262626", "fillColor": "#ffffff", "padding": 5, "symbolType": "M-1,0H8.6", "symbolSize": 100, "symbolStrokeWidth": 1.2, "labelFontSize": 14, "labelColor": "#000000", "rowPadding": 5, "labelOffset": 41}}
     }},
    {"transform": [{"filter": {"field": "s", "oneOf": ["err 1D", "err 0D"]}}],
     "mark": {"type": "line", "interpolate": "monotone", "strokeWidth": 1.2},
     "encoding": {
       "x": {"field": "t", "type": "quantitative"},
       "y": {"field": "v", "type": "quantitative", "scale": {"domain": [0, 150], "nice": false}, "axis": {"orient": "right", "values": [0, 50, 100, 150], "title": "abs error (°C)", "grid": false, "domainColor": "#8B3F9B", "tickColor": "#8B3F9B", "labelColor": "#8B3F9B", "titleColor": "#8B3F9B", "labelPadding": 12, "titlePadding": 7, "titleAngle": 270, "titleBaseline": "top"}},
       "color": {"field": "s", "type": "nominal", "legend": {"orient": "none", "legendX": 395, "legendY": 18, "title": null, "strokeColor": "#262626", "fillColor": "#ffffff", "padding": 5, "symbolType": "M-1,0H8.6", "symbolSize": 100, "symbolStrokeWidth": 1.2, "labelFontSize": 14, "labelColor": "#000000", "rowPadding": 5, "labelOffset": 41}},
       "strokeDash": {"field": "s", "type": "nominal", "legend": {"orient": "none", "legendX": 395, "legendY": 18, "title": null, "strokeColor": "#262626", "fillColor": "#ffffff", "padding": 5, "symbolType": "M-1,0H8.6", "symbolSize": 100, "symbolStrokeWidth": 1.2, "labelFontSize": 14, "labelColor": "#000000", "rowPadding": 5, "labelOffset": 41}}
     }}
  ],
  "resolve": {"scale": {"y": "independent"}}
}
]
}
